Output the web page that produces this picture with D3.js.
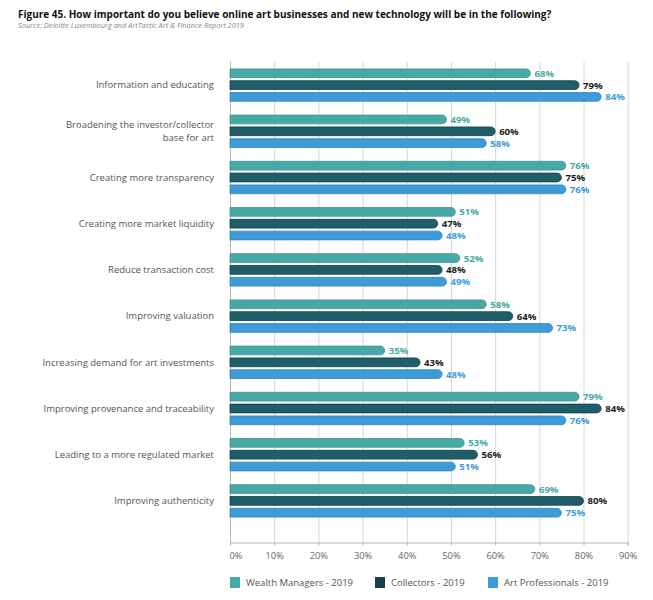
<!DOCTYPE html>
<html><head><meta charset="utf-8">
<script src="https://cdn.jsdelivr.net/npm/d3@7"></script>
<style>
body{margin:0;background:#fff;font-family:"Open Sans",sans-serif;}
svg text{font-family:"Open Sans",sans-serif;}
</style></head>
<body>
<svg id="chart" width="653" height="600"></svg>
<script>
const categories = [
  ["Information and educating"],
  ["Broadening the investor/collector","base for art"],
  ["Creating more transparency"],
  ["Creating more market liquidity"],
  ["Reduce transaction cost"],
  ["Improving valuation"],
  ["Increasing demand for art investments"],
  ["Improving provenance and traceability"],
  ["Leading to a more regulated market"],
  ["Improving authenticity"]
];
const seriesNames = ["Wealth Managers - 2019","Collectors - 2019","Art Professionals - 2019"];
const wealthManagers = [68,49,76,51,52,58,35,79,53,69];
const collectors = [79,60,75,47,48,64,43,84,56,80];
const artProfessionals = [84,58,76,48,49,73,48,76,51,75];
const tickValues = [0,10,20,30,40,50,60,70,80,90];

const barColors = ["#47a9a5","#1f5e69","#3e9bd7"];
const strokeColors = ["#3a9591","#123f48","#2f86c0"];
const legendColors = ["#47a9a5","#163f48","#3e9bd7"];
const labelColors = ["#47a9a5","#1a1a1a","#3e9bd7"];

const series = [wealthManagers, collectors, artProfessionals];
const svg = d3.select("#chart");

// Title
svg.append("text").attr("x",18).attr("y",18).attr("font-size",10).attr("font-weight",700)
  .attr("fill","#111").text("Figure 45. How important do you believe online art businesses and new technology will be in the following?");
svg.append("text").attr("x",18).attr("y",28).attr("font-size",7.4).attr("font-style","italic")
  .attr("fill","#888").text("Source: Deloitte Luxembourg and ArtTactic Art & Finance Report 2019");

const x = d3.scaleLinear().domain([0,90]).range([230,627.7]);
const y = d3.scaleBand().domain(d3.range(categories.length)).range([62,524]);
const inner = d3.scaleBand().domain([0,1,2]).range([-16.2,16.2]).paddingInner(0.26);

const gridTop = 62, gridBottom = 542.5;
svg.append("g").selectAll("line").data(tickValues.slice(1)).join("line")
  .attr("x1",d=>x(d)+0.5).attr("x2",d=>x(d)+0.5).attr("y1",gridTop).attr("y2",gridBottom)
  .attr("stroke","#d6d6d6").attr("stroke-width",1);

const axis = svg.append("g").attr("transform",`translate(0,${gridBottom})`)
  .call(d3.axisBottom(x).tickValues(tickValues).tickFormat(d=>d+"%").tickSize(3).tickPadding(7));
axis.select(".domain").attr("stroke","#b5b5b5");
axis.selectAll(".tick line").attr("stroke","#b5b5b5");
axis.selectAll(".tick text").attr("font-size",9.3).attr("fill","#666").attr("font-family","Open Sans, sans-serif");
axis.selectAll(".tick text").filter(d=>d===0).attr("text-anchor","start").attr("dx",-1);
svg.append("line").attr("x1",230.5).attr("x2",230.5).attr("y1",gridTop).attr("y2",gridBottom)
  .attr("stroke","#b5b5b5");

const groups = svg.append("g").selectAll("g").data(categories).join("g")
  .attr("transform",(d,i)=>`translate(0,${y(i)+y.bandwidth()/2})`);

groups.each(function(cat,i){
  const g = d3.select(this);
  series.forEach((vals,s)=>{
    const v = vals[i];
    const by = inner(s), bh = inner.bandwidth();
    const x0 = x(0), x1 = x(v);
    const r = bh/2;
    const path = `M${x0},${by} H${x1-r} A${r},${r} 0 0 1 ${x1-r},${by+bh} H${x0} Z`;
    g.append("path").attr("d",path).attr("fill",barColors[s])
      .attr("stroke",strokeColors[s]).attr("stroke-width",0.8);
    g.append("text").attr("x",x1+4).attr("y",by+bh/2).attr("dy","0.36em")
      .attr("font-size",9.6).attr("font-weight",700).attr("fill",labelColors[s]).text(v+"%");
  });
  const lh = 13;
  cat.forEach((ln,k)=>{
    g.append("text").attr("x",214).attr("y",(k-(cat.length-1)/2)*lh).attr("dy","0.35em")
      .attr("text-anchor","end").attr("font-size",9.5).attr("fill","#555").text(ln);
  });
});

const legendX = [230,375,488];
const leg = svg.append("g").selectAll("g").data(seriesNames).join("g")
  .attr("transform",(d,i)=>`translate(${legendX[i]},577)`);
leg.append("rect").attr("width",10).attr("height",11).attr("fill",(d,i)=>legendColors[i]);
leg.append("text").attr("x",16).attr("y",6).attr("dy","0.35em").attr("font-size",9.5)
  .attr("fill","#555").text(d=>d);
</script>
</body></html>
